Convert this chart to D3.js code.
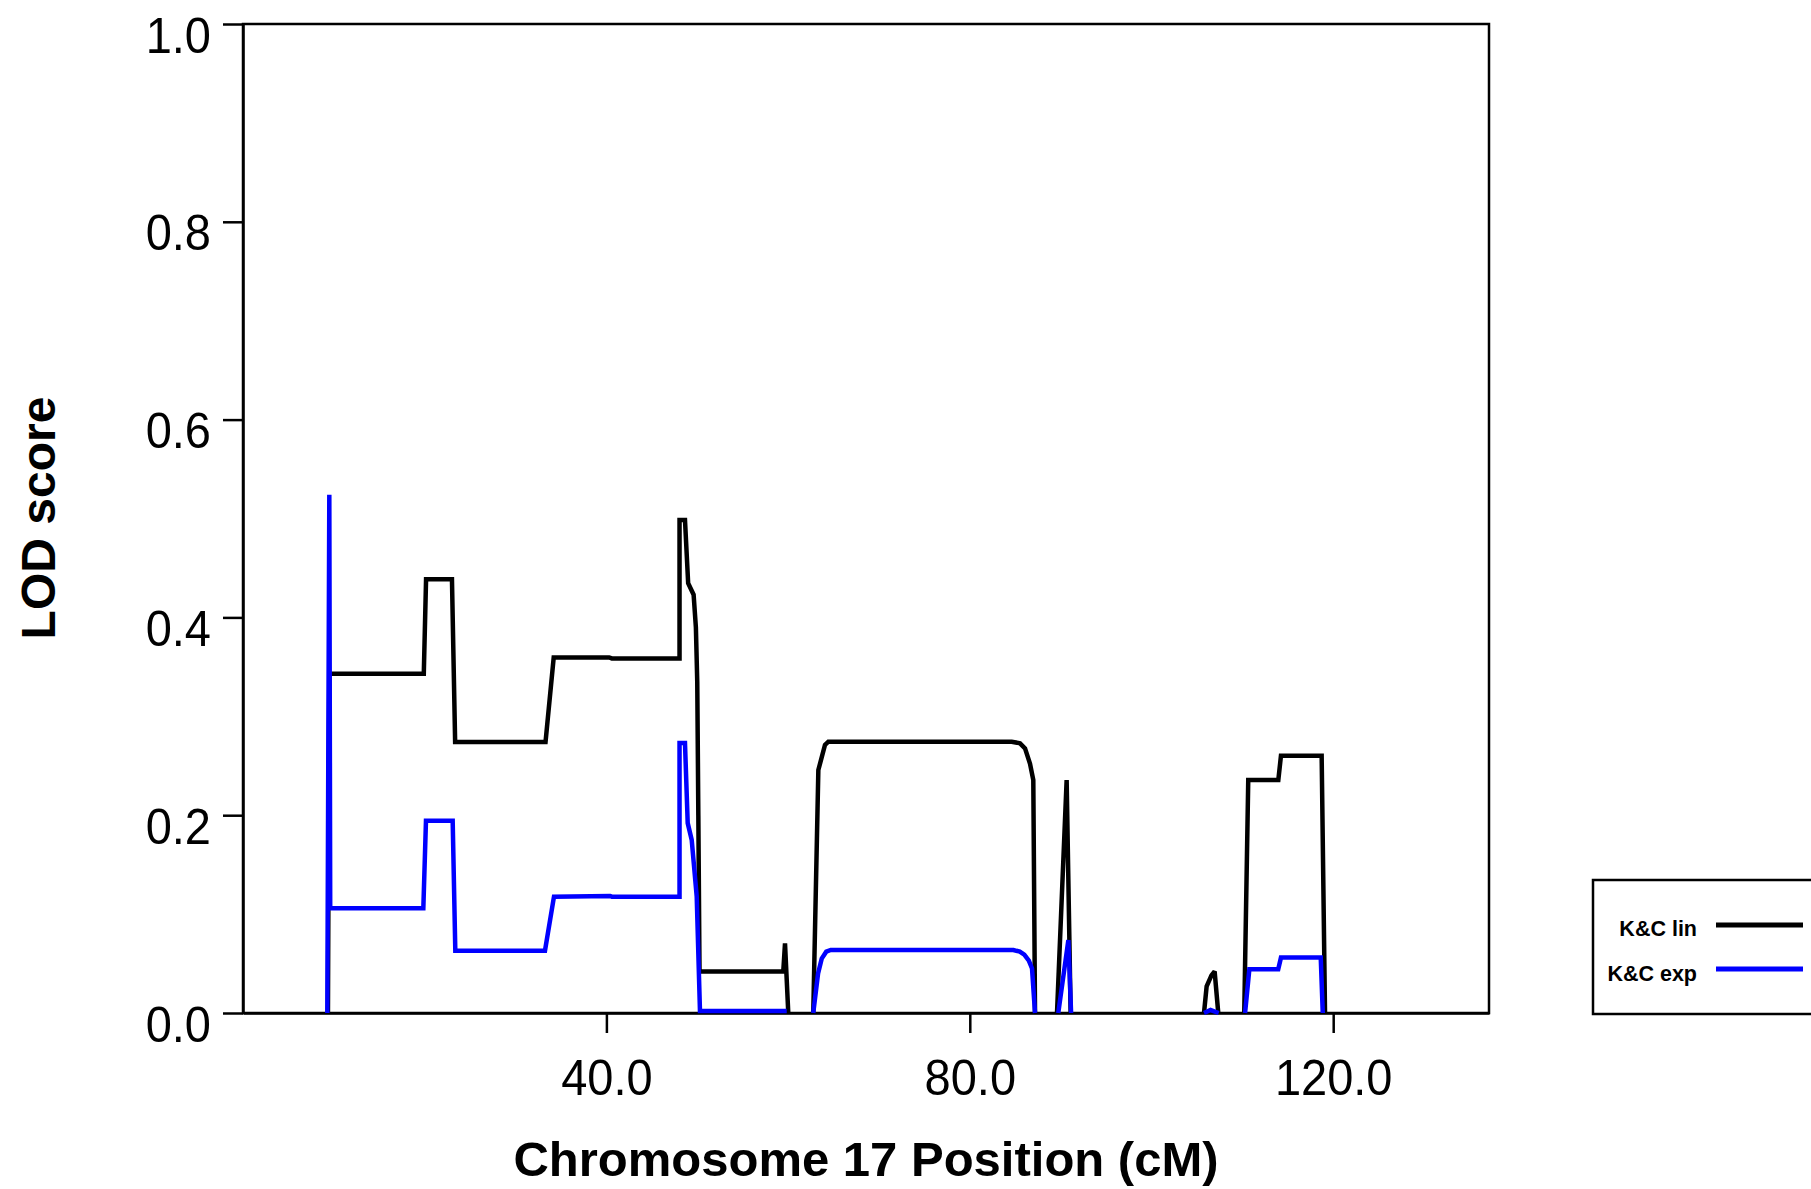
<!DOCTYPE html>
<html><head><meta charset="utf-8">
<script src="https://cdn.jsdelivr.net/npm/d3@7"></script>
<style>
body{margin:0;background:#fff}
svg{display:block}
text{font-family:"Liberation Sans",Arial,Helvetica,sans-serif;fill:#000}
</style>
</head><body>
<svg id="c" width="1811" height="1189"></svg>
<script>
// ---- data (position in cM, LOD score; null = no value / gap) ----
const linPos = [9.35, 9.5, 19.9, 20.15, 23.0, 23.35, 33.3, 34.2, 40.3, 40.6, 48.05, 48.05, 48.65, 49.0, 49.6, 49.85, 50.0, 50.12, 50.25, 59.47, 59.66, 60.02, 61, 62.77, 63.33, 64.06, 64.43, 84.61, 85.53, 86.08, 86.63, 86.99, 87.18, 88, 89.6, 90.66, 91.1, 98, 105.78, 106.07, 106.6, 106.95, 107.35, 109, 110.21, 110.65, 113.96, 114.25, 118.73, 119.1];
const linLod = [0, 0.343, 0.343, 0.4385, 0.4385, 0.274, 0.274, 0.3595, 0.3595, 0.3585, 0.3585, 0.4985, 0.4985, 0.4345, 0.423, 0.39, 0.335, 0.2, 0.042, 0.042, 0.0705, 0, null, 0, 0.2457, 0.271, 0.2743, 0.2743, 0.2727, 0.2676, 0.252, 0.2356, 0, null, 0, 0.2356, 0, null, 0, 0.027, 0.038, 0.042, 0, null, 0, 0.2356, 0.2356, 0.26, 0.26, 0];

const expPos = [9.28, 9.5, 9.6, 19.85, 20.14, 23.08, 23.37, 33.24, 34.23, 40.4, 40.6, 48.05, 48.05, 48.65, 48.95, 49.39, 49.94, 50.3, 59.85, 61, 62.77, 63.3, 63.7, 64.2, 64.7, 84.8, 85.5, 86.0, 86.5, 86.85, 87.18, 88, 89.74, 90.85, 91.15, 98, 105.78, 106.5, 107.4, 109, 110.3, 110.77, 113.95, 114.25, 118.63, 118.85];
const expLod = [0, 0.524, 0.106, 0.106, 0.1945, 0.1945, 0.063, 0.063, 0.1176, 0.1183, 0.1176, 0.1176, 0.273, 0.273, 0.192, 0.175, 0.118, 0.002, 0.002, null, 0, 0.04, 0.055, 0.062, 0.0637, 0.0637, 0.062, 0.059, 0.053, 0.045, 0, null, 0, 0.0738, 0, null, 0, 0.003, 0, null, 0, 0.0442, 0.0442, 0.056, 0.056, 0];

const xTicks = [40, 80, 120];
const yTicks = [0, 0.2, 0.4, 0.6, 0.8, 1.0];
const seriesNames = ["K&C lin", "K&C exp"];
const seriesColors = ["#000000", "#0000ff"];
const xTitle = "Chromosome 17 Position (cM)";
const yTitle = "LOD score";

// ---- layout ----
const L = 243, R = 1489, T = 24, B = 1013;
const svg = d3.select('#c');
const x = d3.scaleLinear().domain([0, 137.15]).range([L, R]);
const y = d3.scaleLinear().domain([0, 1]).range([B, T]);

// frame
svg.append('rect').attr('x', L).attr('y', T).attr('width', R - L).attr('height', B - T)
  .attr('fill', 'none').attr('stroke', '#000').attr('stroke-width', 2.5);

// y axis
const ya = svg.append('g').attr('transform', `translate(${L},0)`)
  .call(d3.axisLeft(y).tickValues(yTicks).tickSize(20).tickSizeOuter(0).tickFormat(d3.format('.1f')));
ya.select('.domain').attr('stroke', '#000').attr('stroke-width', 2.5);
ya.selectAll('.tick line').attr('stroke', '#000').attr('stroke-width', 2.5);
ya.selectAll('.tick text').attr('x', 0).attr('y', 0).attr('dy', null)
  .attr('transform', 'translate(-32,28) scale(1,1.08)')
  .attr('font-size', 47).attr('font-family', '"Liberation Sans",Arial,sans-serif').attr('fill', '#000');

// x axis
const xa = svg.append('g').attr('transform', `translate(0,${B})`)
  .call(d3.axisBottom(x).tickValues(xTicks).tickSize(20).tickSizeOuter(0).tickFormat(d3.format('.1f')));
xa.select('.domain').attr('stroke', '#000').attr('stroke-width', 2.5);
xa.selectAll('.tick line').attr('stroke', '#000').attr('stroke-width', 2.5);
xa.selectAll('.tick text').attr('y', 0).attr('dy', null)
  .attr('transform', 'translate(0,82) scale(1,1.08)')
  .attr('font-size', 47).attr('font-family', '"Liberation Sans",Arial,sans-serif').attr('fill', '#000');

// titles
svg.append('text').attr('x', (L + R) / 2).attr('y', 1176).attr('text-anchor', 'middle')
  .attr('font-weight', 'bold').attr('font-size', 49).text(xTitle);
svg.append('text').attr('transform', 'translate(55,518) rotate(-90)').attr('text-anchor', 'middle')
  .attr('font-weight', 'bold').attr('font-size', 48).text(yTitle);

// lines
const line = d3.line().defined(d => d[1] !== null).x(d => x(d[0])).y(d => y(d[1]));
const series = [
  linPos.map((p, i) => [p, linLod[i]]),
  expPos.map((p, i) => [p, expLod[i]])
];
series.forEach((s, i) => {
  svg.append('path').datum(s).attr('d', line).attr('fill', 'none')
    .attr('stroke', seriesColors[i]).attr('stroke-width', 4.5)
    .attr('stroke-linejoin', 'miter').attr('stroke-miterlimit', 2);
});

// legend
const lg = svg.append('g');
lg.append('rect').attr('x', 1593).attr('y', 880).attr('width', 300).attr('height', 134)
  .attr('fill', '#fff').attr('stroke', '#000').attr('stroke-width', 2.5);
seriesNames.forEach((n, i) => {
  lg.append('text').attr('x', 1697).attr('y', 936 + i * 44.5).attr('text-anchor', 'end')
    .attr('font-weight', 'bold').attr('font-size', 21.5).text(n);
  lg.append('line').attr('x1', 1716).attr('x2', 1803).attr('y1', 925 + i * 44).attr('y2', 925 + i * 44)
    .attr('stroke', seriesColors[i]).attr('stroke-width', 5);
});
</script>
</body></html>
